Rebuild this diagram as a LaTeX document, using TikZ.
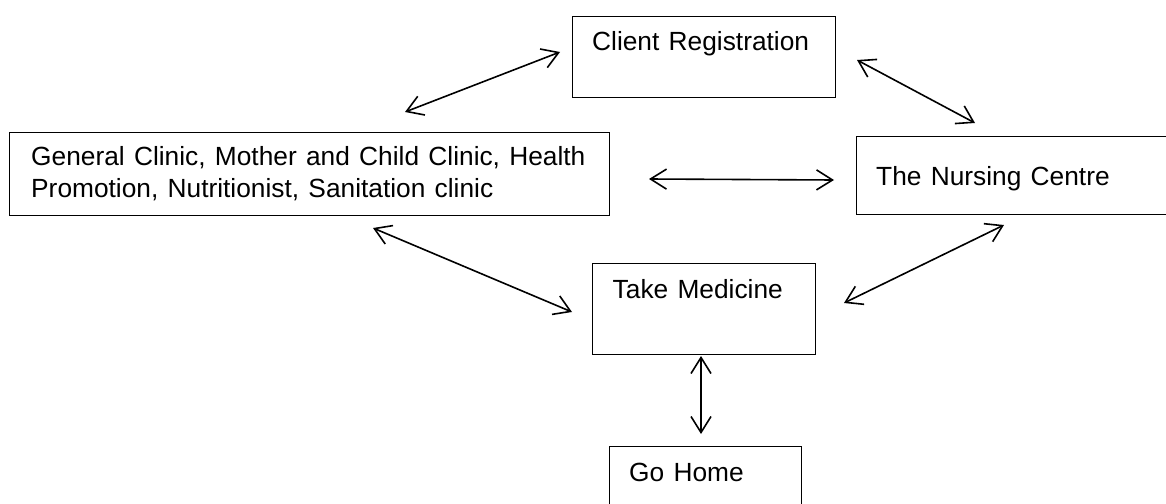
\documentclass[tikz,border=0pt]{standalone}
\usepackage{fontspec}
\setmainfont{Liberation Sans}
\usetikzlibrary{arrows.meta,calc}

\tikzset{
  box/.style={draw=black, line width=1.2pt, rectangle, inner sep=0pt},
  lbl/.style={inner sep=0pt, anchor=base west,
    font=\fontsize{26.3}{31}\selectfont,
    execute at begin node={\spaceskip=9.3pt\relax}},
  link/.style={line width=1.6pt, {Straight Barb[length=16pt,width=20pt,line width=1.6pt]}-{Straight Barb[length=16pt,width=20pt,line width=1.6pt]}}
}

\begin{document}
\begin{tikzpicture}[x=1pt,y=-1pt]
  \useasboundingbox (0,0) rectangle (1166,503);
  \clip (0,0) rectangle (1166,503);
  \fill[white] (0,0) rectangle (1166,503);

  % boxes (corner to corner)
  \node[box, anchor=north west, minimum width=263pt, minimum height=81pt] (reg) at (572,16) {};
  \node[box, anchor=north west, minimum width=600pt, minimum height=83pt] (clinic) at (9,132) {};
  \node[box, anchor=north west, minimum width=330pt, minimum height=78pt] (nurse) at (856,136) {};
  \node[box, anchor=north west, minimum width=223pt, minimum height=91pt] (med) at (592,263) {};
  \node[box, anchor=north west, minimum width=192pt, minimum height=70pt] (home) at (609,446) {};

  % box texts
  \node[lbl] (regtxt) at ($(reg.north west)+(20,34.7)$) {Client Registration};
  \node[lbl] (clinictxt1) at ($(clinic.north west)+(22,33.7)$) {General Clinic, Mother and Child Clinic, Health};
  \node[lbl] (clinictxt2) at ($(clinic.north west)+(22,65.3)$) {Promotion, Nutritionist, Sanitation clinic};
  \node[lbl] (nursetxt) at ($(nurse.north west)+(20,49.7)$) {The Nursing Centre};
  \node[lbl] (medtxt) at ($(med.north west)+(20.5,35.3)$) {Take Medicine};
  \node[lbl] (hometxt) at ($(home.north west)+(20,35.7)$) {Go Home};

  % connector end points
  \coordinate (c1a) at (405,112);  \coordinate (c1b) at (560,52);
  \coordinate (c2a) at (857,60);   \coordinate (c2b) at (975,123);
  \coordinate (c3a) at (649,179);  \coordinate (c3b) at (834,180);
  \coordinate (c4a) at (373,228);  \coordinate (c4b) at (572,312);
  \coordinate (c5a) at (1004,225); \coordinate (c5b) at (844,303);
  \coordinate (c6a) at (701,356);  \coordinate (c6b) at (701,434);

  % two-way connectors
  \draw[link] (c1a) -- (c1b);
  \draw[link] (c2a) -- (c2b);
  \draw[link] (c3a) -- (c3b);
  \draw[link] (c4a) -- (c4b);
  \draw[link] (c5a) -- (c5b);
  \draw[link] (c6a) -- (c6b);
\end{tikzpicture}
\end{document}
